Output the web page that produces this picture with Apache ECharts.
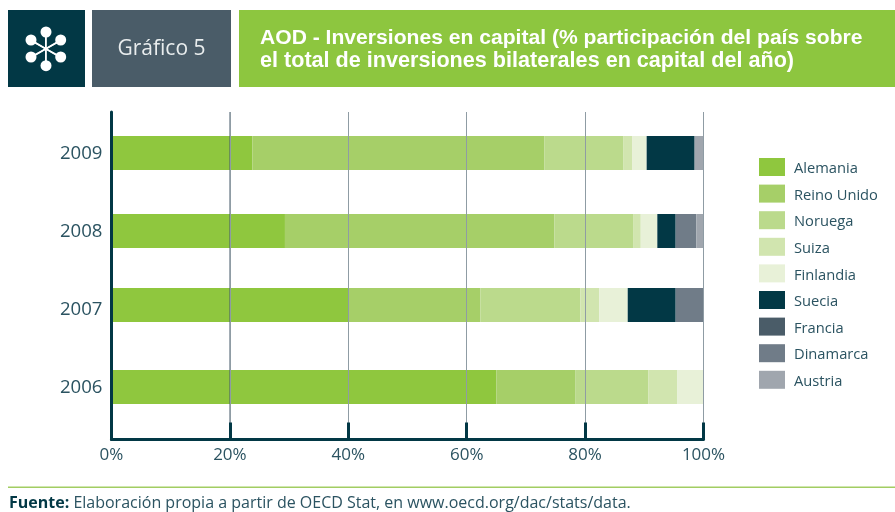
<!DOCTYPE html>
<html>
<head>
<meta charset="utf-8">
<title>Gráfico 5</title>
<script src="https://cdn.jsdelivr.net/npm/echarts@6/dist/echarts.min.js"></script>
<style>
  html, body { margin: 0; padding: 0; background: #fff; }
  #chart { width: 895px; height: 512px; }
</style>
</head>
<body>
<div id="chart"></div>
<script>
// orden de arriba a abajo
const years = ['2009', '2008', '2007', '2006'];

const alemania   = [23.8, 29.3, 40.0, 65.0];
const reinoUnido = [49.3, 45.5, 22.3, 13.4];
const noruega    = [13.4, 13.4, 16.9, 12.3];
const suiza      = [1.5, 1.2, 3.2, 4.9];
const finlandia  = [2.4, 2.8, 4.8, 4.4];
const suecia     = [8.1, 3.1, 8.1, 0];
const francia    = [0, 0, 0, 0];
const dinamarca  = [0, 3.5, 4.7, 0];
const austria    = [1.5, 1.2, 0, 0];

const names = ['Alemania', 'Reino Unido', 'Noruega', 'Suiza', 'Finlandia', 'Suecia', 'Francia', 'Dinamarca', 'Austria'];
const values = [alemania, reinoUnido, noruega, suiza, finlandia, suecia, francia, dinamarca, austria];
const colors = ['#8fc73e', '#a6cf68', '#bbda8c', '#d1e5af', '#e8f1d8', '#023845', '#4a5c68', '#707c88', '#a0a6ae'];

// filas del eje y: la barra de 2007 no esta centrada en su etiqueta
const labelRows = [3, 2, 1, 0];
const barRows = [3, 2, 1.05, 0];
const rowMin = -0.673;
const rowMax = 3.526;
const barHeight = 34;

const NAVY = '#023845';
const TEXT = '#2b5361';
const FONT = '"Open Sans", "Noto Sans", sans-serif';
const TITLE_FONT = '"Liberation Sans", sans-serif';

function renderBar(params, api) {
  const a = api.coord([api.value(0), api.value(2)]);
  const b = api.coord([api.value(1), api.value(2)]);
  return {
    type: 'rect',
    shape: { x: a[0], y: Math.round(a[1] - barHeight / 2), width: b[0] - a[0], height: barHeight },
    style: { fill: api.visual('color') }
  };
}

function renderGridLine(params, api) {
  const a = api.coord([api.value(0), api.value(1)]);
  const b = api.coord([api.value(0), api.value(2)]);
  const x = Math.floor(a[0]) + 0.5;
  return {
    type: 'line',
    shape: { x1: x, y1: a[1], x2: x, y2: b[1] },
    style: { stroke: 'rgba(70,90,105,0.5)', lineWidth: 1 }
  };
}

const barSeries = names.map(function (name, s) {
  const data = [];
  years.forEach(function (y, i) {
    let start = 0;
    for (let k = 0; k < s; k++) start += values[k][i];
    if (values[s][i] > 0) data.push([start, start + values[s][i], barRows[i]]);
  });
  return {
    name: name,
    type: 'custom',
    renderItem: renderBar,
    encode: { x: [0, 1], y: 2 },
    itemStyle: { color: colors[s] },
    z: 2,
    data: data
  };
});

// las lineas de 80 y 100 quedan tapadas por las barras de 2007 y 2006
const overlay = {
  name: 'grid',
  type: 'custom',
  renderItem: renderGridLine,
  encode: { x: 0, y: [1, 2] },
  z: 3,
  data: [[20, rowMin, rowMax], [40, rowMin, rowMax], [60, rowMin, rowMax], [80, 1.5, rowMax]]
};

const headerIconDots = [[46, 32], [46, 65.7], [31, 40], [60.7, 40], [31, 57], [60.7, 57]];
const headerIcon = [];
headerIconDots.forEach(function (d) {
  headerIcon.push({ type: 'line', silent: true, z: 11, shape: { x1: d[0], y1: d[1], x2: 91.7 - d[0], y2: 97.7 - d[1] }, style: { stroke: '#fff', lineWidth: 1.5 } });
  headerIcon.push({ type: 'circle', silent: true, z: 11, shape: { cx: d[0], cy: d[1], r: 5.5 }, style: { fill: '#fff' } });
});

const myChart = echarts.init(document.getElementById('chart'), null, { renderer: 'canvas' });
myChart.setOption({
  animation: false,
  textStyle: { fontFamily: FONT },
  grid: { left: 111.5, top: 112, width: 592, height: 327.5, containLabel: false },
  legend: {
    orient: 'vertical',
    left: 759,
    top: 158,
    padding: 0,
    icon: 'rect',
    itemWidth: 26,
    itemHeight: 18,
    itemGap: 8.1,
    selectedMode: false,
    data: names,
    formatter: function (name) { return '{t|' + name + '}'; },
    textStyle: {
      rich: { t: { fontSize: 14.7, color: TEXT, fontFamily: FONT, padding: [4, 0, 0, 4] } }
    }
  },
  xAxis: {
    type: 'value',
    min: 0,
    max: 100,
    interval: 20,
    z: 4,
    axisLine: { show: true, onZero: false, lineStyle: { color: NAVY, width: 3 } },
    axisTick: { show: true, inside: true, length: 17, lineStyle: { color: NAVY, width: 3 } },
    axisLabel: { formatter: '{value}%', fontSize: 17, color: TEXT, margin: 7, fontFamily: FONT, hideOverlap: false },
    splitLine: { show: true, lineStyle: { color: '#8f9ca4', width: 1 } }
  },
  yAxis: {
    type: 'value',
    min: rowMin,
    max: rowMax,
    z: 4,
    axisLine: { show: true, onZero: false, lineStyle: { color: NAVY, width: 3 } },
    axisTick: { show: false },
    splitLine: { show: false },
    axisLabel: {
      customValues: labelRows,
      formatter: function (v) { return '{y|' + years[labelRows.indexOf(v)] + '}'; },
      margin: 9,
      rich: { y: { fontSize: 18.6, color: TEXT, fontFamily: FONT, padding: [2, 0, 0, 0] } }
    }
  },
  graphic: [
    { type: 'rect', silent: true, z: 10, shape: { x: 8, y: 10, width: 77, height: 77 }, style: { fill: NAVY } },
    { type: 'rect', silent: true, z: 10, shape: { x: 92, y: 10, width: 139, height: 77 }, style: { fill: '#4a5c68' } },
    { type: 'rect', silent: true, z: 10, shape: { x: 239, y: 10, width: 656, height: 77 }, style: { fill: '#8dc63f' } }
  ].concat(headerIcon).concat([
    { type: 'text', silent: true, z: 11, style: { x: 161.5, y: 49, text: 'Gráfico 5', fill: '#e9edee', font: '21px ' + FONT, textAlign: 'center', textVerticalAlign: 'middle' } },
    { type: 'text', silent: true, z: 11, style: { x: 260, y: 38, text: 'AOD - Inversiones en capital (% participación del país sobre', fill: '#fff', font: 'bold 21.1px ' + TITLE_FONT, textAlign: 'left', textVerticalAlign: 'middle' } },
    { type: 'text', silent: true, z: 11, style: { x: 260, y: 61, text: 'el total de inversiones bilaterales en capital del año)', fill: '#fff', font: 'bold 21.6px ' + TITLE_FONT, textAlign: 'left', textVerticalAlign: 'middle' } },
    { type: 'rect', silent: true, z: 11, shape: { x: 8, y: 486.5, width: 887, height: 1.5 }, style: { fill: '#a2cd62' } },
    {
      type: 'text', silent: true, z: 11,
      style: {
        x: 9, y: 503,
        text: '{b|Fuente:} Elaboración propia a partir de OECD Stat, en www.oecd.org/dac/stats/data.',
        fill: TEXT,
        font: '16px ' + FONT,
        textVerticalAlign: 'middle',
        rich: { b: { fontWeight: 'bold', fontSize: 16, fontFamily: FONT, fill: NAVY } }
      }
    }
  ]),
  series: barSeries.concat([overlay])
});
</script>
</body>
</html>
